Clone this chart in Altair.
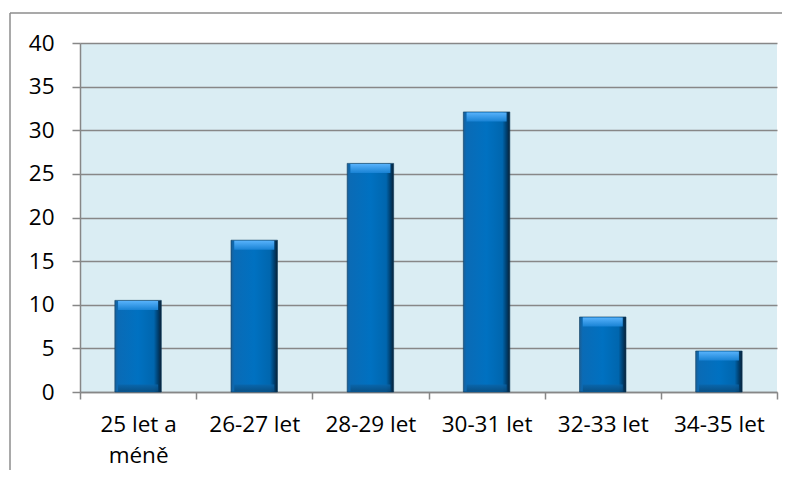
import altair as alt
import pandas as pd

categories = ["25 let a méně", "26-27 let", "28-29 let", "30-31 let", "32-33 let", "34-35 let"]
values = [10.5, 17.4, 26.2, 32.1, 8.6, 4.7]

df = pd.DataFrame({"kategorie": categories, "hodnota": values})

W, H = 697, 349
PAD = {"left": 72, "top": 35, "right": 5, "bottom": 78}
FONT = "Open Sans"
GRAY = "#878787"

x_enc = alt.X(
    "kategorie:N",
    sort=categories,
    title=None,
    scale=alt.Scale(paddingInner=0, paddingOuter=0),
    axis=alt.Axis(
        labelAngle=0,
        labelFont=FONT,
        labelFontSize=22.5,
        labelColor="#000000",
        labelPadding=14,
        labelLineHeight=31,
        labelExpr="datum.value == '25 let a méně' ? ['25 let a', 'méně'] : datum.value",
        tickBand="extent",
        tickSize=7,
        tickColor=GRAY,
        tickWidth=1.5,
        domainColor=GRAY,
        domainWidth=1.5,
        grid=False,
    ),
)

y_enc = alt.Y(
    "hodnota:Q",
    title=None,
    scale=alt.Scale(domain=[0, 40], nice=False),
    axis=alt.Axis(
        values=[0, 5, 10, 15, 20, 25, 30, 35, 40],
        labelFont=FONT,
        labelFontSize=22.5,
        labelColor="#000000",
        labelPadding=18,
        tickSize=8,
        tickColor=GRAY,
        tickWidth=1.5,
        domainColor=GRAY,
        domainWidth=1.5,
        grid=True,
        gridColor=GRAY,
        gridWidth=1.5,
    ),
)

bar_grad = alt.Gradient(
    gradient="linear",
    x1=0, x2=1, y1=0, y2=0,
    stops=[
        alt.GradientStop(offset=0, color="#1b5f96"),
        alt.GradientStop(offset=0.07, color="#0a6bb6"),
        alt.GradientStop(offset=0.5, color="#0071c1"),
        alt.GradientStop(offset=0.84, color="#0066ae"),
        alt.GradientStop(offset=0.94, color="#003a66"),
        alt.GradientStop(offset=1, color="#0b2236"),
    ],
)

top_grad = alt.Gradient(
    gradient="linear",
    x1=0, x2=0, y1=0, y2=1,
    stops=[
        alt.GradientStop(offset=0, color="#5cb6ff"),
        alt.GradientStop(offset=1, color="#1a84d6"),
    ],
)

bot_grad = alt.Gradient(
    gradient="linear",
    x1=0, x2=0, y1=0, y2=1,
    stops=[
        alt.GradientStop(offset=0, color="#0a64a8"),
        alt.GradientStop(offset=1, color="#0a4a7a"),
    ],
)

base = alt.Chart(df)

bars = base.mark_bar(
    width=alt.RelativeBandSize(0.4),
    color=bar_grad,
    stroke="#0a3a5e",
    strokeWidth=0.6,
).encode(x=x_enc, y=y_enc)

top_bevel = base.mark_tick(
    size=40, thickness=9, yOffset=5, color=top_grad, opacity=0.95
).encode(x=alt.X("kategorie:N", sort=categories), y="hodnota:Q")

bot_bevel = base.mark_tick(
    size=40, thickness=7, yOffset=-4, color=bot_grad, opacity=0.8
).encode(x=alt.X("kategorie:N", sort=categories), y=alt.datum(0))

frame_src = alt.Chart(alt.Data(values=[{"a": 1}]))
frame_top = frame_src.mark_rule(color="#8c8c8c", strokeWidth=1.5).encode(
    x=alt.value(-70), x2=alt.value(W + PAD["right"]), y=alt.value(-30)
)
frame_left = frame_src.mark_rule(color="#8c8c8c", strokeWidth=1.5).encode(
    x=alt.value(-70), y=alt.value(-30), y2=alt.value(H + PAD["bottom"])
)

chart = alt.layer(bars, top_bevel, bot_bevel, frame_top, frame_left).properties(
    width=W,
    height=H,
    padding=PAD,
    autosize=alt.AutoSizeParams(type="none"),
    background="#ffffff",
).configure_view(fill="#DAEDF3", stroke=None)

chart.save("out.html", embed_options={"renderer": "svg", "actions": False})
